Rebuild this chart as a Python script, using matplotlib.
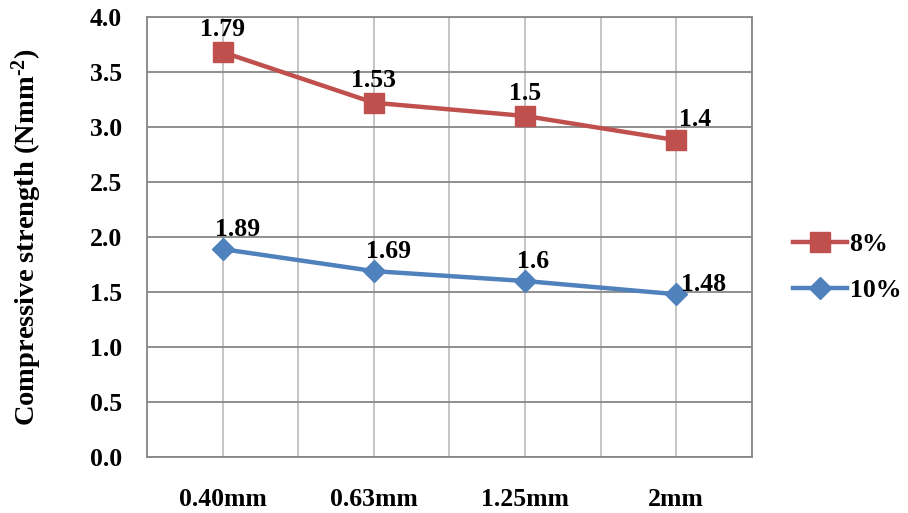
import numpy as np
import matplotlib.pyplot as plt

plt.rcParams['font.family'] = 'Liberation Serif'
plt.rcParams['font.weight'] = 'bold'
plt.rcParams['mathtext.fontset'] = 'custom'
plt.rcParams['mathtext.rm'] = 'Liberation Serif:bold'
plt.rcParams['mathtext.default'] = 'rm'

categories = ['0.40mm', '0.63mm', '1.25mm', '2mm']
s8 = [3.68, 3.22, 3.10, 2.88]        # plotted positions
s8_labels = ['1.79', '1.53', '1.5', '1.4']
s10 = [1.89, 1.69, 1.60, 1.48]
s10_labels = ['1.89', '1.69', '1.6', '1.48']
yticks = [0.0, 0.5, 1.0, 1.5, 2.0, 2.5, 3.0, 3.5, 4.0]

red = '#C0504D'
blue = '#4F81BD'
FS = 18.5

fig = plt.figure(figsize=(9.08, 5.13), dpi=100)
ax = fig.add_axes([0.162, 0.109, 0.666, 0.858])
x = np.arange(len(categories))

ax.plot(x, s8, color=red, lw=3.2, marker='s', ms=14, label='8%', zorder=3)
ax.plot(x, s10, color=blue, lw=3.2, marker='D', ms=11, label='10%', zorder=3)

for xi, y, t in zip(x, s8, s8_labels):
    if t == '1.4':
        ax.text(xi + 0.02, y + 0.08, t, ha='left', va='bottom', fontsize=FS)
    else:
        ax.text(xi, y + 0.1, t, ha='center', va='bottom', fontsize=FS)
for xi, y, t in zip(x, s10, s10_labels):
    if t == '1.48':
        ax.text(xi + 0.03, y - 0.02, t, ha='left', va='bottom', fontsize=FS)
    else:
        ax.text(xi - 0.05, y + 0.07, t, ha='left', va='bottom', fontsize=FS)

ax.set_xlim(-0.5, 3.5)
ax.set_ylim(0, 4.0)
ax.set_xticks(x)
ax.set_xticklabels(categories)
ax.set_xticks([-0.5, 0.5, 1.5, 2.5, 3.5], minor=True)
ax.set_yticks(yticks)
ax.set_yticklabels(['%.1f' % v for v in yticks])
ax.tick_params(axis='both', which='both', length=0, labelsize=FS)
ax.tick_params(axis='y', pad=18)
ax.tick_params(axis='x', pad=22)

ax.grid(axis='y', color='#878787', lw=1.3)
ax.grid(axis='x', which='both', color='#C0C0C0', lw=1.3)
ax.set_axisbelow(True)
for sp in ax.spines.values():
    sp.set_color('#878787')
    sp.set_linewidth(1.3)

ax.set_ylabel(r'Compressive strength (Nmm$^{\text{-2}}$)', fontsize=20.5,
              fontweight='bold', labelpad=33)

leg = ax.legend(loc='center left', bbox_to_anchor=(1.03, 0.43), frameon=False,
                fontsize=FS, handlelength=2.1, labelspacing=0.9, handletextpad=0.1)

fig.savefig('out.png', dpi=100)
